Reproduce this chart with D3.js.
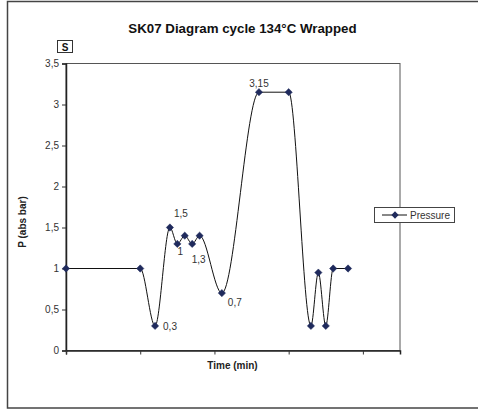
<!DOCTYPE html>
<html><head><meta charset="utf-8">
<script src="https://cdn.jsdelivr.net/npm/d3@7"></script>
<style>body{margin:0;background:#fff}svg{display:block}text{font-family:"Liberation Sans",Arial,sans-serif}</style>
</head><body>
<svg id="c" width="478" height="411"></svg>
<script>
const times = [0,10,12,14,15,16,17,18,21,26,30,33,34,35,36,38];
const pressure = [1,1,0.3,1.5,1.3,1.4,1.3,1.4,0.7,3.15,3.15,0.3,0.95,0.3,1,1];
const yTicks = [0,0.5,1,1.5,2,2.5,3,3.5];
const xTicks = [0,10,20,30,40];
const dataLabels = [
  {i:2, text:"0,3"}, {i:3, text:"1,5"}, {i:4, text:"1"},
  {i:6, text:"1,3"}, {i:8, text:"0,7"}, {i:9, text:"3,15"}
];
const labelOffsets = {2:[8,4,"start"],3:[11,-10.5,"middle"],4:[3,11.5,"middle"],6:[6.5,19.5,"middle"],8:[6,13,"start"],9:[0,-5,"middle"]};

const svg = d3.select("#c");
const L=66, R=400, T=63.5, B=350.5;
const x = d3.scaleLinear().domain([0,45]).range([L,R]);
const y = d3.scaleLinear().domain([0,3.5]).range([B,T]);
const fmt = d => String(d).replace(".", ",");

// outer frame
svg.append("rect").attr("x",7.5).attr("y",1.5).attr("width",480).attr("height",406.5)
  .attr("fill","none").attr("stroke","#444").attr("stroke-width",1.5);

// plot frame
svg.append("rect").attr("x",L).attr("y",T).attr("width",R-L).attr("height",B-T)
  .attr("fill","#fff").attr("stroke","#555").attr("stroke-width",1);

// axes
const ya = svg.append("g").attr("transform",`translate(${L},0)`)
  .call(d3.axisLeft(y).tickValues(yTicks).tickSize(4).tickPadding(3).tickFormat(fmt));
const xa = svg.append("g").attr("transform",`translate(0,${B})`)
  .call(d3.axisBottom(x).tickValues(xTicks).tickSize(4).tickFormat(""));
[ya,xa].forEach(g=>{
  g.select(".domain").attr("stroke","#222").attr("stroke-width",1.5);
  g.selectAll(".tick line").attr("stroke","#333");
  g.selectAll(".tick text").attr("fill","#333").style("font-size","10px").style("font-family","'Liberation Sans',Arial,sans-serif");
});

// title
svg.append("text").attr("x",242.5).attr("y",32.5).attr("text-anchor","middle")
  .style("font-weight","bold").style("font-size","13.3px").attr("fill","#111")
  .text("SK07 Diagram cycle 134°C Wrapped");

// S box
svg.append("rect").attr("x",57.5).attr("y",40.5).attr("width",15).attr("height",12)
  .attr("fill","#fff").attr("stroke","#333");
svg.append("text").attr("x",65).attr("y",50.5).attr("text-anchor","middle")
  .style("font-weight","bold").style("font-size","10px").attr("fill","#111").text("S");

// axis titles
svg.append("text").attr("x",232.5).attr("y",368.5).attr("text-anchor","middle")
  .style("font-weight","bold").style("font-size","10px").attr("fill","#222").text("Time (min)");
svg.append("text").attr("transform","translate(26,222) rotate(-90)").attr("text-anchor","middle")
  .style("font-weight","bold").style("font-size","10px").attr("fill","#222").text("P (abs bar)");

// series
const pts = times.map((t,i)=>[x(t), y(pressure[i])]);
svg.append("path").attr("d", d3.line().curve(d3.curveMonotoneX)(pts))
  .attr("fill","none").attr("stroke","#111").attr("stroke-width",1);

const diamond = d3.symbol().type(d3.symbolDiamond2).size(34);
svg.selectAll(".m").data(pts).join("path").attr("class","m")
  .attr("transform",d=>`translate(${d[0]},${d[1]})`).attr("d",diamond)
  .attr("fill","#1f2a5c").attr("stroke","#1f2a5c").attr("stroke-width",0.5);

// data labels
svg.selectAll(".dl").data(dataLabels).join("text").attr("class","dl")
  .attr("x",d=>pts[d.i][0]+labelOffsets[d.i][0])
  .attr("y",d=>pts[d.i][1]+labelOffsets[d.i][1])
  .attr("text-anchor",d=>labelOffsets[d.i][2])
  .style("font-size","10px").attr("fill","#333").text(d=>d.text);

// legend
svg.append("rect").attr("x",374.5).attr("y",207.5).attr("width",80).attr("height",15)
  .attr("fill","#fff").attr("stroke","#444");
svg.append("line").attr("x1",382).attr("x2",407).attr("y1",215).attr("y2",215).attr("stroke","#111");
svg.append("path").attr("transform","translate(395,215)").attr("d",diamond).attr("fill","#1f2a5c");
svg.append("text").attr("x",410).attr("y",218.5).style("font-size","10px").attr("fill","#333").text("Pressure");
</script>
</body></html>
